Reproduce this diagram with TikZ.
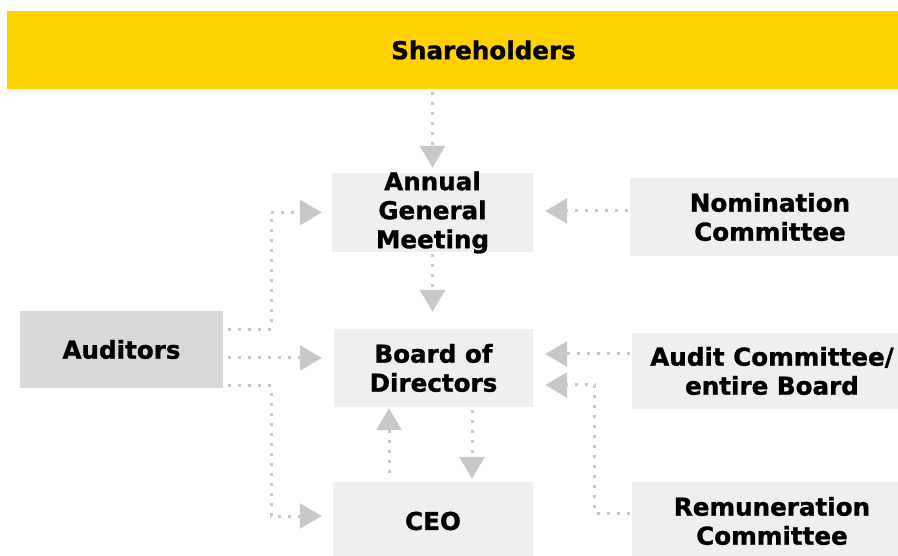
\documentclass[tikz,border=0pt]{standalone}
\usepackage{fontspec}
\setmainfont{DejaVu Sans}[BoldFeatures={FakeBold=1.2}]
\usepackage{xcolor}
\usetikzlibrary{arrows.meta, positioning}
\definecolor{shyellow}{RGB}{255,210,0}
\definecolor{boxgray}{RGB}{239,239,239}
\definecolor{audgray}{RGB}{217,217,217}
\definecolor{linkgray}{RGB}{200,200,200}

\begin{document}
\begin{tikzpicture}[
    x=1pt, y=-1pt,
    govbox/.style={
        rectangle,
        fill=boxgray,
        inner sep=0pt,
        minimum width=200pt,
        minimum height=78pt,
        align=center,
        font=\fontsize{24.6}{29}\selectfont\bfseries
    },
    sidebox/.style={govbox, minimum width=280pt},
    link/.style={
        draw=linkgray,
        line width=3pt,
        dash pattern=on 3pt off 7pt,
        -{Triangle[width=25pt, length=22pt]}
    }
]
    \useasboundingbox (0,0) rectangle (898,556);

    % Shareholders
    \node[govbox, fill=shyellow, minimum width=953pt] (sh) at (483.5,50) {Shareholders};

    % Centre column
    \node[govbox, minimum width=201pt, minimum height=79pt,
          label={[align=center, font=\fontsize{24.6}{29}\selectfont\bfseries]center:Annual\\General\\Meeting}]
          (agm) at (432.5,212.5) {};
    \node[govbox, minimum width=199pt] (bod) at (433.5,368) {Board of\\Directors};
    \node[govbox] (ceo) at (433,521) {CEO};

    % Auditors
    \node[govbox, fill=audgray, minimum width=203pt, minimum height=77pt] (aud) at (121.5,349.5) {Auditors};

    % Committees
    \node[sidebox] (nom) at (770,217) {Nomination\\Committee};
    \node[sidebox, minimum height=76pt] (acb) at (772,371) {Audit Committee/\\entire Board};
    \node[sidebox] (rem) at (772,521) {Remuneration\\Committee};

    % Links
    \draw[link, shorten <=3pt, shorten >=5pt] (agm.north |- sh.south) -- (agm.north);
    \draw[link, shorten <=2pt, shorten >=17pt] (agm.south) -- (agm.south |- bod.north);
    \draw[link] ([xshift=-44pt, yshift=9pt]ceo.north) -- ([xshift=-44.5pt, yshift=-1pt]bod.south);
    \draw[link] ([xshift=38.5pt, yshift=-3pt]bod.south) -- ([xshift=39pt, yshift=3pt]ceo.north);

    \draw[link] ([xshift=5pt, yshift=20pt]aud.east) -- ++(43,0) |- ([xshift=-10pt]agm.west);
    \draw[link] ([xshift=5pt, yshift=-8.5pt]aud.east) -- ([xshift=-12pt, yshift=10pt]bod.west);
    \draw[link] ([xshift=5pt, yshift=-36.5pt]aud.east) -- ++(43,0) |- ([xshift=-11pt, yshift=5pt]ceo.west);

    \draw[link] ([xshift=-2pt, yshift=6pt]nom.west) -- ([xshift=12pt, yshift=1.5pt]agm.east);
    \draw[link] ([xshift=-2pt, yshift=17pt]acb.west) -- ([xshift=12pt, yshift=14pt]bod.east);
    \draw[link] ([xshift=-2pt, yshift=8pt]rem.west) -- ++(-35,0) |- ([xshift=12pt, yshift=-17pt]bod.east);
\end{tikzpicture}
\end{document}
